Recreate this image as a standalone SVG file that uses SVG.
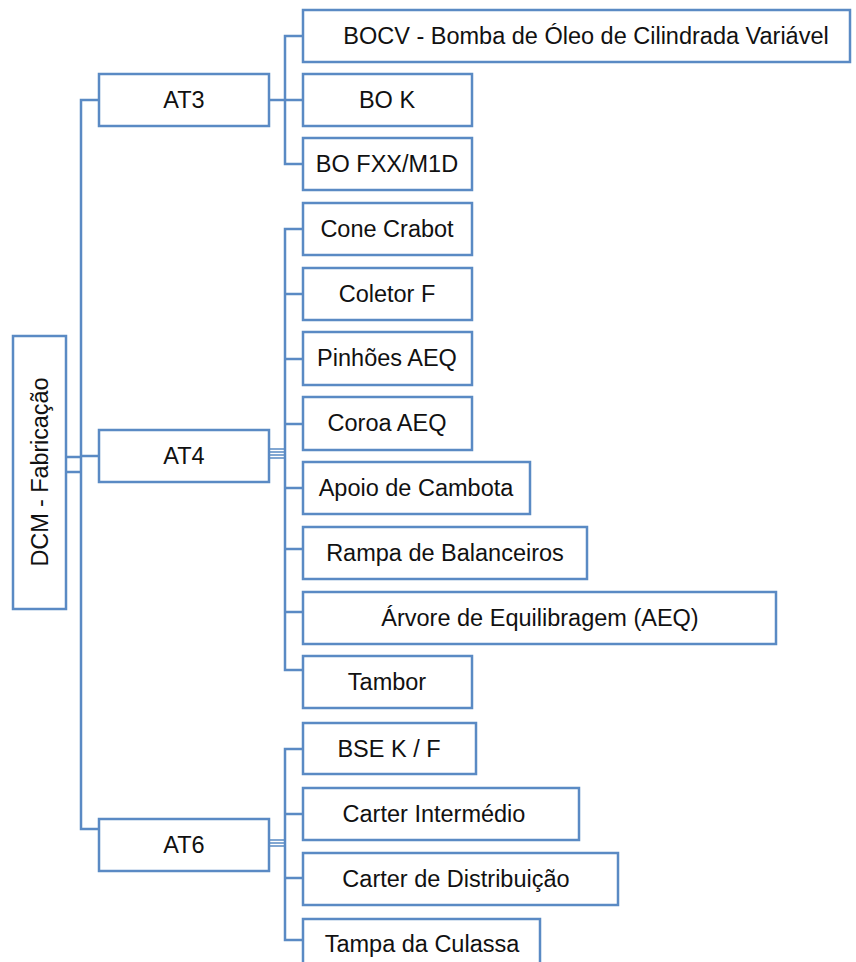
<svg xmlns="http://www.w3.org/2000/svg" width="856" height="962" viewBox="0 0 856 962">
  <style>
    .box { fill: #ffffff; stroke: #5a8ac4; stroke-width: 2.5; }
    .lbl { font-family: "Liberation Sans", Arial, sans-serif; font-size: 23.5px; fill: #111111; text-anchor: middle; dominant-baseline: central; }
    .wire { fill: none; stroke: #5a8ac4; stroke-width: 2.5; }
    .thin { fill: none; stroke: #5a8ac4; stroke-width: 1.5; }
  </style>
  <rect width="856" height="962" fill="#ffffff"/>

  <!-- connectors -->
  <g id="connectors">
    <!-- root to level 1 -->
    <path class="wire" d="M66,457 H81 M66,472 H81"/>
    <path class="wire" d="M99,100 H81 V829 H99 M81,456 H99"/>
    <!-- AT3 branch -->
    <path class="wire" d="M269,100 H285" stroke-width="4"/>
    <path class="wire" d="M303,36 H285 V164 H303 M285,100 H303"/>
    <!-- AT4 branch -->
    <path class="thin" d="M269,449 H285 M269,452 H285 M269,455 H285 M269,458 H285"/>
    <path class="wire" d="M303,229 H285 V670 H303 M285,294 H303 M285,359 H303 M285,424 H303 M285,488 H303 M285,549 H303 M285,612 H303"/>
    <!-- AT6 branch -->
    <path class="thin" d="M269,840 H285 M269,843 H285 M269,846 H285"/>
    <path class="wire" d="M303,749 H285 V940 H303 M285,814 H303 M285,878 H303"/>
  </g>

  <!-- root -->
  <g id="root">
    <rect class="box" x="13" y="336" width="53" height="273"/>
    <text class="lbl" transform="translate(40,472) rotate(-90)" font-size="25" textLength="189" lengthAdjust="spacing">DCM - Fabricação</text>
  </g>

  <!-- level 1 -->
  <g id="at3">
    <rect class="box" x="99" y="74" width="170" height="52"/>
    <text class="lbl" x="184" y="100">AT3</text>
  </g>
  <g id="at4">
    <rect class="box" x="99" y="430" width="170" height="52"/>
    <text class="lbl" x="184" y="456">AT4</text>
  </g>
  <g id="at6">
    <rect class="box" x="99" y="819" width="170" height="52"/>
    <text class="lbl" x="184" y="845">AT6</text>
  </g>

  <!-- AT3 children -->
  <g id="bocv">
    <rect class="box" x="303" y="10" width="547" height="52"/>
    <text class="lbl" x="586" y="36">BOCV - Bomba de Óleo de Cilindrada Variável</text>
  </g>
  <g id="bok">
    <rect class="box" x="303" y="74" width="169" height="52"/>
    <text class="lbl" x="387" y="100">BO K</text>
  </g>
  <g id="bofxx">
    <rect class="box" x="303" y="138" width="169" height="52"/>
    <text class="lbl" x="387" y="164">BO FXX/M1D</text>
  </g>

  <!-- AT4 children -->
  <g id="cone-crabot">
    <rect class="box" x="303" y="203" width="169" height="52"/>
    <text class="lbl" x="387" y="229">Cone Crabot</text>
  </g>
  <g id="coletor-f">
    <rect class="box" x="303" y="268" width="169" height="52"/>
    <text class="lbl" x="387" y="294">Coletor F</text>
  </g>
  <g id="pinhoes-aeq">
    <rect class="box" x="303" y="332" width="169" height="53"/>
    <text class="lbl" x="387" y="358">Pinhões AEQ</text>
  </g>
  <g id="coroa-aeq">
    <rect class="box" x="303" y="397" width="169" height="53"/>
    <text class="lbl" x="387" y="423">Coroa AEQ</text>
  </g>
  <g id="apoio-cambota">
    <rect class="box" x="303" y="462" width="227" height="52"/>
    <text class="lbl" x="416" y="488">Apoio de Cambota</text>
  </g>
  <g id="rampa-balanceiros">
    <rect class="box" x="303" y="527" width="284" height="52"/>
    <text class="lbl" x="445" y="553">Rampa de Balanceiros</text>
  </g>
  <g id="arvore-equilibragem">
    <rect class="box" x="303" y="592" width="473" height="52"/>
    <text class="lbl" x="540" y="618">Árvore de Equilibragem (AEQ)</text>
  </g>
  <g id="tambor">
    <rect class="box" x="303" y="656" width="169" height="52"/>
    <text class="lbl" x="387" y="682">Tambor</text>
  </g>

  <!-- AT6 children -->
  <g id="bse-kf">
    <rect class="box" x="303" y="723" width="173" height="51"/>
    <text class="lbl" x="389" y="749">BSE K / F</text>
  </g>
  <g id="carter-intermedio">
    <rect class="box" x="303" y="788" width="276" height="52"/>
    <text class="lbl" x="434" y="814">Carter Intermédio</text>
  </g>
  <g id="carter-distribuicao">
    <rect class="box" x="303" y="853" width="315" height="52"/>
    <text class="lbl" x="456" y="879">Carter de Distribuição</text>
  </g>
  <g id="tampa-culassa">
    <rect class="box" x="303" y="919" width="237" height="60"/>
    <text class="lbl" x="422" y="944">Tampa da Culassa</text>
  </g>
</svg>
